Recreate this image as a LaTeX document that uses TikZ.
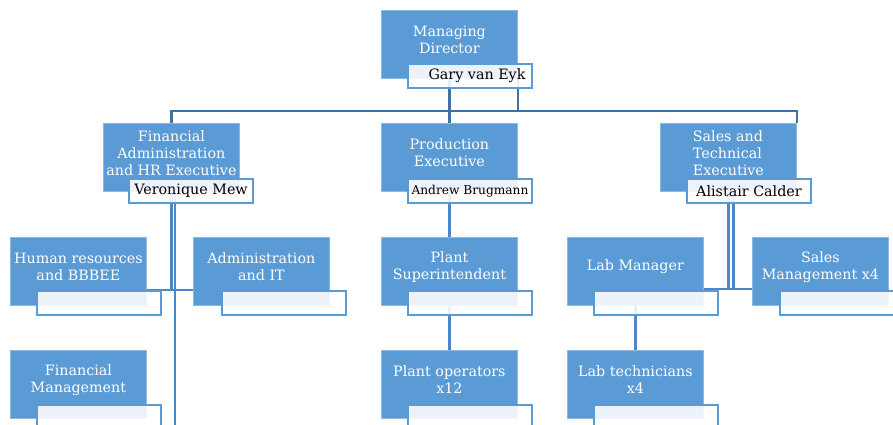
\documentclass[tikz,border=0pt]{standalone}
\usepackage{fontspec}
\setmainfont{DejaVu Serif}

\definecolor{roleblue}{HTML}{5B9BD5}
\definecolor{roleedge}{HTML}{8CB8E4}
\definecolor{barblue}{HTML}{41719C}
\definecolor{linkblue}{HTML}{4F86C6}

\tikzset{
  role/.style={fill=roleblue, draw=roleedge, line width=0.8pt, minimum width=136, minimum height=68,
    anchor=north west, inner sep=0pt},
  roletext/.style={text=white, align=center, font=\fontsize{14.3}{17}\selectfont, yshift=4.5pt},
  namebox/.style={draw=roleblue, line width=2pt, fill=white, fill opacity=0.88, text opacity=1,
    minimum width=124, minimum height=24, anchor=north west, inner sep=0pt,
    font=\fontsize{14.3}{16}\selectfont},
  bar/.style={draw=barblue, line width=2.6pt},
  link/.style={draw=linkblue, line width=2.3pt}
}

\begin{document}
\begin{tikzpicture}[x=1pt, y=-1pt]
    \useasboundingbox (0,0) rectangle (893,425);
    \clip (0,0) rectangle (893,425);

    % top level
    \node[role] (md) at (381,10) {};
    \node[roletext] (md-t) at (md.center) {Managing\\Director};

    % second level
    \node[role] (fa) at (103,123) {};
    \node[roletext] (fa-t) at (fa.center) {Financial\\Administration\\and HR Executive};
    \node[role] (pe) at (381,123) {};
    \node[roletext] (pe-t) at (pe.center) {Production\\Executive};
    \node[role] (st) at (660,123) {};
    \node[roletext, align=left] (st-t) at (st.center) {Sales and\\Technical\\Executive};

    % third level
    \node[role] (hr) at (10,237) {};
    \node[roletext] (hr-t) at (hr.center) {Human resources\\and BBBEE};
    \node[role] (ad) at (193,237) {};
    \node[roletext] (ad-t) at (ad.center) {Administration\\and IT};
    \node[role] (ps) at (381,237) {};
    \node[roletext] (ps-t) at (ps.center) {Plant\\Superintendent};
    \node[role] (lm) at (567,237) {};
    \node[roletext] (lm-t) at (lm.center) {Lab Manager};
    \node[role] (sm) at (752,237) {};
    \node[roletext] (sm-t) at (sm.center) {Sales\\Management x4};

    % fourth level
    \node[role] (fm) at (10,350) {};
    \node[roletext] (fm-t) at (fm.center) {Financial\\Management};
    \node[role] (po) at (381,350) {};
    \node[roletext] (po-t) at (po.center) {Plant operators\\x12};
    \node[role] (lt) at (567,350) {};
    \node[roletext] (lt-t) at (lt.center) {Lab technicians\\x4};

    % connectors
    \coordinate (barline) at (0,111);
    \coordinate (fabot) at (175,430);
    \draw[bar] (fa.north) -- (fa.north |- barline) -- (st.north east |- barline) -- (st.north east);
    \draw[bar] (md.south) -- (pe.north);
    \draw[bar] (md.south east) -- (md.south east |- barline);

    \draw[link] (fa.south) -- (fa.south |- 0,290);
    \draw[link] (hr.east |- 0,290) -- (ad.west |- 0,290);
    \draw[link] (fabot |- fa.south) -- (fabot);
    \draw[link] (pe.south) -- (ps.north);
    \draw[link] (ps.south) -- (po.north);
    \draw[link] (st.south) -- (st.south |- 0,289);
    \draw[link] ([xshift=5pt]st.south) -- ([xshift=5pt]st.south |- 0,289);
    \draw[link] (lm.east |- 0,289) -- (sm.west |- 0,289);
    \draw[link] (lm.south) -- (lt.north);

    % name boxes
    \node[namebox] (md-n) at (407,63) {\hspace*{14pt}Gary van Eyk};
    \node[namebox] (fa-n) at (128,178) {Veronique Mew};
    \node[namebox, font=\fontsize{12.2}{14}\selectfont] (pe-n) at (407,178) {Andrew Brugmann};
    \node[namebox] (st-n) at (686,178) {Alistair Calder};
    \node[namebox] (hr-n) at (36,290) {};
    \node[namebox] (ad-n) at (221,290) {};
    \node[namebox] (ps-n) at (407,290) {};
    \node[namebox] (lm-n) at (593,290) {};
    \node[namebox] (sm-n) at (779,290) {};
    \node[namebox] (fm-n) at (36,404) {};
    \node[namebox] (po-n) at (407,404) {};
    \node[namebox] (lt-n) at (593,404) {};
\end{tikzpicture}
\end{document}
